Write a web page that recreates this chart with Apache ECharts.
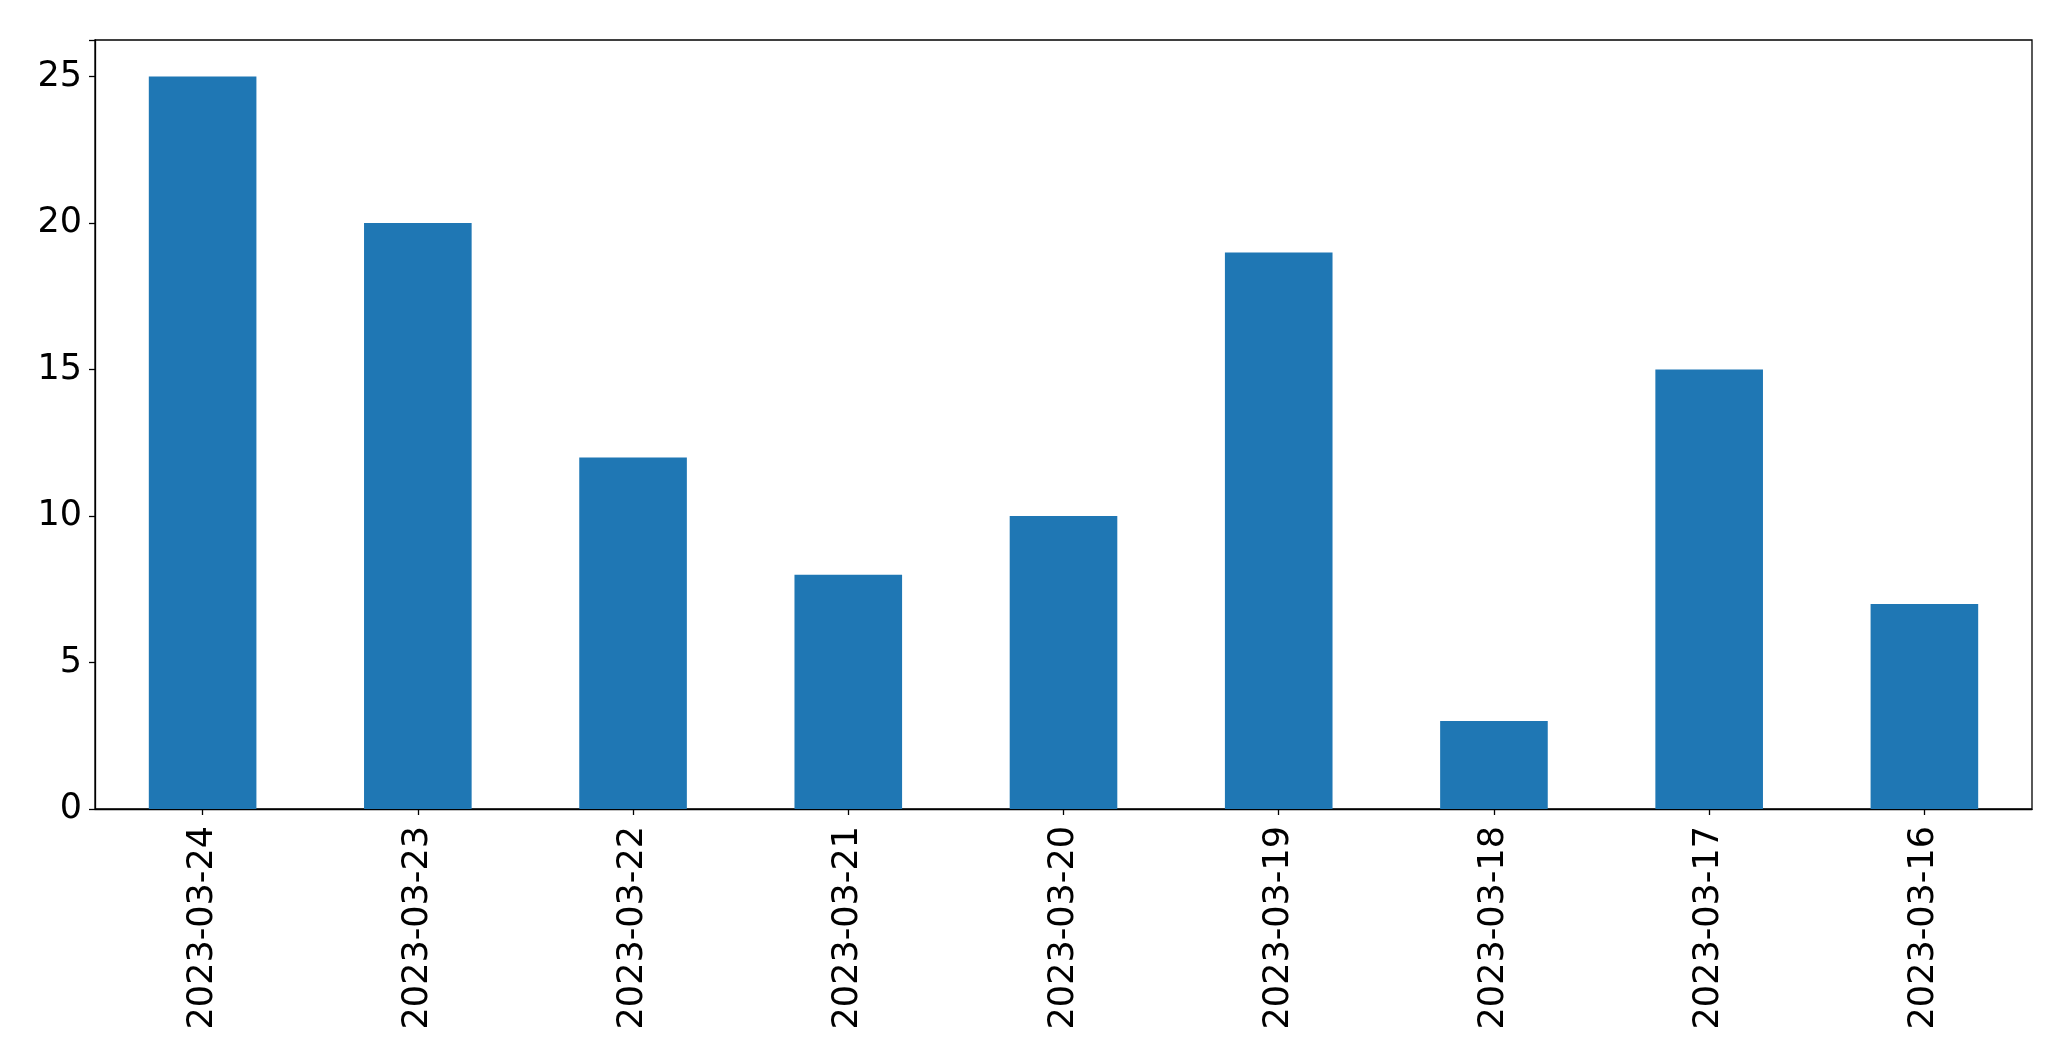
<!DOCTYPE html>
<html>
<head>
<meta charset="utf-8">
<script src="https://cdn.jsdelivr.net/npm/echarts@6/dist/echarts.min.js"></script>
<style>
html,body{margin:0;padding:0;background:#fff;}
#chart{width:2071px;height:1061px;}
</style>
</head>
<body>
<div id="chart"></div>
<script>
const categories = ['2023-03-24','2023-03-23','2023-03-22','2023-03-21','2023-03-20','2023-03-19','2023-03-18','2023-03-17','2023-03-16'];
const values = [25, 20, 12, 8, 10, 19, 3, 15, 7];
const yTicks = [0, 5, 10, 15, 20, 25];

const chart = echarts.init(document.getElementById('chart'), null, {renderer:'canvas'});
const font = 'DejaVu Sans';
chart.setOption({
  animation: false,
  backgroundColor: '#ffffff',
  grid: {left: 95, right: 39, top: 40, bottom: 252, show: true, borderColor: '#000', borderWidth: 1.3, backgroundColor: 'transparent'},
  xAxis: {
    type: 'category',
    data: categories,
    boundaryGap: true,
    axisLine: {show: true, lineStyle: {color: '#000', width: 1.3}},
    axisTick: {show: true, alignWithLabel: true, length: 6, lineStyle: {color: '#000', width: 1.3}},
    axisLabel: {rotate: 90, margin: 17, fontFamily: font, fontSize: 35, color: '#000', interval: 0},
    splitLine: {show: false}
  },
  yAxis: {
    type: 'value',
    min: 0,
    max: 26.25,
    interval: 5,
    axisLine: {show: true, lineStyle: {color: '#000', width: 1.3}},
    axisTick: {show: true, length: 6, lineStyle: {color: '#000', width: 1.3}},
    axisLabel: {margin: 13, fontFamily: font, fontSize: 35, color: '#000',
      formatter: v => (yTicks.indexOf(v) >= 0 ? String(v) : '')},
    splitLine: {show: false}
  },
  series: [{
    type: 'bar',
    data: values,
    barWidth: '50%',
    itemStyle: {color: '#1f77b4'}
  }]
});
</script>
</body>
</html>
